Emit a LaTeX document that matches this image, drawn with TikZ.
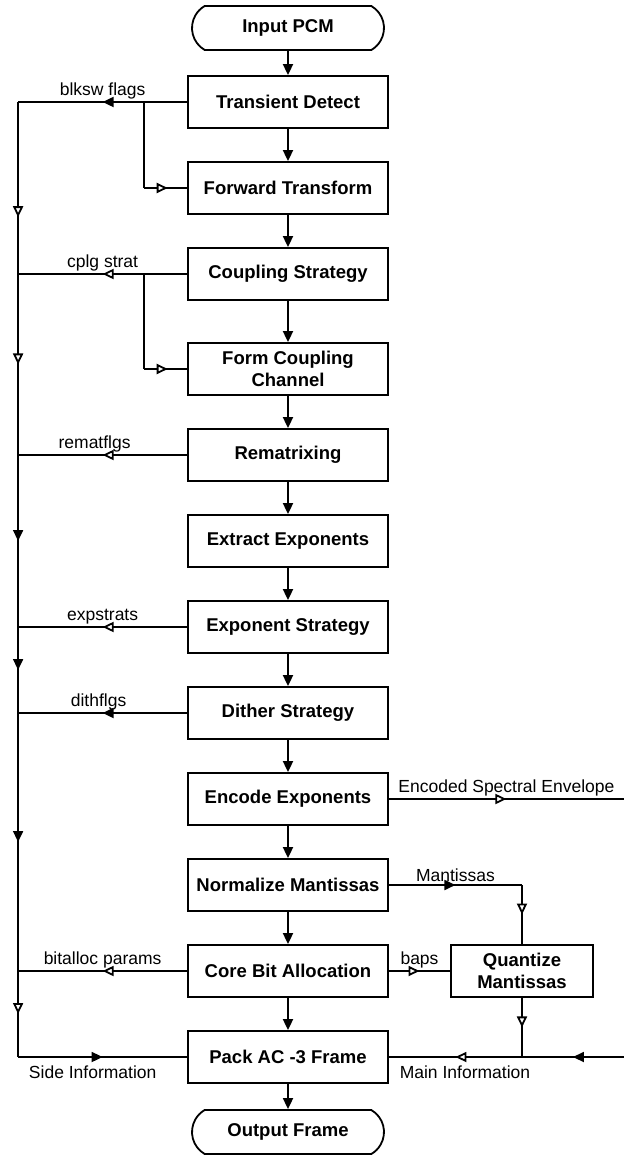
\documentclass[tikz,border=0pt]{standalone}
\usepackage{fontspec}
\setmainfont{Liberation Sans}
\usetikzlibrary{positioning, arrows.meta, shapes.misc, decorations.markings}
\tikzset{
    block/.style={draw, rectangle, minimum width=100pt, minimum height=26pt, align=center, inner sep=2pt, font=\bfseries\fontsize{9.25}{11}\selectfont},
    term/.style={draw, rounded rectangle, rounded rectangle arc length=120, minimum width=100pt, minimum height=22pt, inner sep=2pt, font=\bfseries\fontsize{9.25}{11}\selectfont},
    lbl/.style={font=\fontsize{8.75}{10}\selectfont, inner sep=1pt},
    flow/.style={-{Triangle[width=5pt,length=5.5pt]}},
    solidtip/.style={postaction=decorate, decoration={markings, mark=at position #1 with {\arrow{Triangle[width=5pt,length=5.5pt]}}}},
    opentip/.style={postaction=decorate, decoration={markings, mark=at position #1 with {\arrow{Triangle[width=5pt,length=5.5pt,fill=white]}}}},
}
\begin{document}
\begin{tikzpicture}[line width=0.9pt, node distance=16.1pt]
    \useasboundingbox (-144pt,14pt) rectangle (167.5pt,-565.5pt);

    % main column
    \node[term] (inpcm) {Input PCM};
    \node[block, below=12.1pt of inpcm] (transdet) {Transient Detect};
    \node[block, below=of transdet] (fwdxfm) {Forward Transform};
    \node[block, below=of fwdxfm] (cplstrat) {Coupling Strategy};
    \node[block, below=20.6pt of cplstrat] (formcpl) {Form Coupling\\Channel};
    \node[block, below=of formcpl] (remat) {Rematrixing};
    \node[block, below=of remat] (extexp) {Extract Exponents};
    \node[block, below=of extexp] (expstrat) {Exponent Strategy};
    \node[block, below=of expstrat] (dither) {Dither Strategy};
    \node[block, below=of dither] (encexp) {Encode Exponents};
    \node[block, below=of encexp] (normman) {Normalize Mantissas};
    \node[block, below=of normman] (bitalloc) {Core Bit Allocation};
    \node[block, below=of bitalloc] (pack) {Pack AC -3 Frame};
    \node[term, below=12.6pt of pack] (outfrm) {Output Frame};
    \node[block, minimum width=71pt, right=30.6pt of bitalloc] (quant) {Quantize\\Mantissas};

    \foreach \a/\b in {inpcm/transdet, transdet/fwdxfm, fwdxfm/cplstrat, cplstrat/formcpl,
                       formcpl/remat, remat/extexp, extexp/expstrat, expstrat/dither,
                       dither/encexp, encexp/normman, normman/bitalloc, bitalloc/pack, pack/outfrm}
        \draw[flow] (\a) -- (\b);

    % side information bus
    \coordinate[left=84.5pt of transdet.west] (bus1);
    \coordinate[left=84.5pt of cplstrat.west] (bus2);
    \coordinate[left=84.5pt of remat.west] (bus3);
    \coordinate[left=84.5pt of expstrat.west] (bus4);
    \coordinate[left=84.5pt of dither.west] (bus5);
    \coordinate[left=84.5pt of bitalloc.west] (bus6);
    \coordinate[left=84.5pt of pack.west] (bus7);
    \coordinate[left=21.5pt of transdet.west] (tap1);
    \coordinate[left=21.5pt of cplstrat.west] (tap2);

    \draw[solidtip=0.5] (transdet.west) -- (bus1) node[lbl, midway, above] {blksw flags};
    \draw (tap1) -- (tap1 |- fwdxfm.west);
    \draw[opentip=0.55] (tap1 |- fwdxfm.west) -- (fwdxfm.west);
    \draw[opentip=0.5] (cplstrat.west) -- (bus2) node[lbl, midway, above] {cplg strat};
    \draw (tap2) -- (tap2 |- formcpl.west);
    \draw[opentip=0.55] (tap2 |- formcpl.west) -- (formcpl.west);
    \draw[opentip=0.5] (remat.west) -- (bus3) node[lbl, midway, above, xshift=-4pt] {rematflgs};
    \draw[opentip=0.5] (expstrat.west) -- (bus4) node[lbl, midway, above] {expstrats};
    \draw[solidtip=0.5] (dither.west) -- (bus5) node[lbl, midway, above, xshift=-2pt] {dithflgs};
    \draw[opentip=0.5] (bitalloc.west) -- (bus6) node[lbl, midway, above] {bitalloc params};

    \draw[opentip=0.67] (bus1) -- (bus2);
    \draw[opentip=0.5] (bus2) -- (bus3);
    \draw[solidtip=0.5] (bus3) -- (bus4);
    \draw[solidtip=0.5] (bus4) -- (bus5);
    \draw[solidtip=0.5] (bus5) -- (bus6);
    \draw[opentip=0.5] (bus6) -- (bus7);
    \draw[solidtip=0.5] (bus7) -- (pack.west);
    \node[lbl, below right=3pt and 4pt of bus7] (sidelbl) {Side Information};

    % main information path
    \coordinate[right=117.5pt of encexp.east] (envout);
    \coordinate[right=117.5pt of pack.east] (mainin);
    \coordinate (mancorner) at (normman.east -| quant.north);
    \coordinate (mainjoin) at (pack.east -| quant.south);

    \draw[opentip=0.5] (encexp.east) -- (envout) node[lbl, midway, above] {Encoded Spectral Envelope};
    \draw[solidtip=0.5] (normman.east) -- (mancorner) node[lbl, midway, above] {Mantissas};
    \draw[opentip=0.5] (mancorner) -- (quant.north);
    \draw[opentip=0.5] (bitalloc.east) -- (quant.west) node[lbl, midway, above] {baps};
    \draw[opentip=0.5] (quant.south) -- (mainjoin);
    \draw[solidtip=0.5] (mainin) -- (mainjoin);
    \draw[opentip=0.5] (mainjoin) -- (pack.east);
    \node[lbl, below right=3pt and 4pt of pack.east] (mainlbl) {Main Information};
\end{tikzpicture}
\end{document}
